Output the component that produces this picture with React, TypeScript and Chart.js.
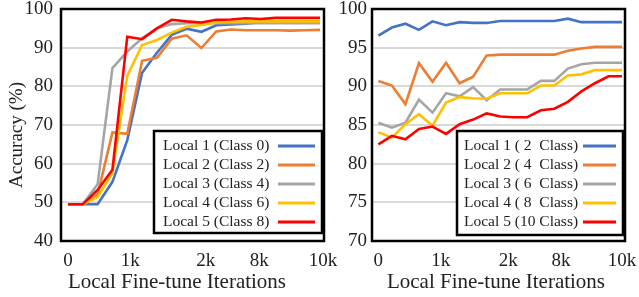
import React, { useEffect, useRef } from 'react';
import { Chart, registerables } from 'chart.js';

Chart.register(...registerables);

const colors = ['#4472C4', '#ED7D31', '#A5A5A5', '#FFC000', '#FF0000'];
const xTickLabels = ['0', '1k', '2k', '8k', '10k'];
const leftTickAt = [0, 4.2, 9.3, 12.9, 17.2];
const rightTickAt = [0, 4.6, 9.6, 13.5, 18];

const leftNames = ['Local 1 (Class 0)', 'Local 2 (Class 2)', 'Local 3 (Class 4)', 'Local 4 (Class 6)', 'Local 5 (Class 8)'];
const rightNames = ['Local 1 ( 2  Class)', 'Local 2 ( 4  Class)', 'Local 3 ( 6  Class)', 'Local 4 ( 8  Class)', 'Local 5 (10 Class)'];

const leftLocal1 = [49.5, 49.5, 49.5, 55.3, 66.1, 83.5, 88.7, 93.3, 94.9, 94.1, 95.8, 96.0, 96.2, 96.6, 96.8, 96.8, 96.8, 96.8];
const leftLocal2 = [49.5, 49.5, 52.0, 68.1, 67.7, 86.6, 87.4, 92.3, 93.2, 89.9, 94.2, 94.7, 94.5, 94.5, 94.5, 94.4, 94.5, 94.6];
const leftLocal3 = [49.5, 49.5, 54.7, 84.7, 89.0, 92.4, 95.0, 96.1, 96.3, 96.3, 96.3, 96.3, 96.3, 96.3, 96.3, 96.3, 96.3, 96.3];
const leftLocal4 = [49.5, 49.5, 51.4, 57.6, 82.7, 90.7, 92.0, 93.9, 95.4, 95.9, 96.5, 96.7, 96.8, 96.8, 96.8, 96.8, 96.8, 96.8];
const leftLocal5 = [49.5, 49.5, 53.2, 58.4, 92.8, 92.2, 95.0, 97.2, 96.8, 96.5, 97.2, 97.3, 97.6, 97.4, 97.7, 97.7, 97.7, 97.7];

const rightLocal1 = [96.55, 97.6, 98.1, 97.3, 98.4, 97.9, 98.3, 98.2, 98.2, 98.45, 98.45, 98.45, 98.45, 98.45, 98.75, 98.3, 98.3, 98.3, 98.3];
const rightLocal2 = [90.7, 90.1, 87.7, 93.0, 90.6, 93.05, 90.4, 91.25, 94.0, 94.1, 94.1, 94.1, 94.1, 94.1, 94.6, 94.9, 95.1, 95.1, 95.1];
const rightLocal3 = [85.3, 84.65, 85.3, 88.3, 86.6, 89.1, 88.7, 89.9, 88.2, 89.6, 89.6, 89.6, 90.7, 90.7, 92.3, 92.85, 93.05, 93.05, 93.05];
const rightLocal4 = [84.05, 83.4, 85.1, 86.4, 84.9, 87.9, 88.6, 88.45, 88.4, 89.1, 89.1, 89.1, 90.1, 90.1, 91.4, 91.55, 92.1, 92.1, 92.1];
const rightLocal5 = [82.5, 83.6, 83.15, 84.5, 84.8, 83.85, 85.1, 85.7, 86.5, 86.1, 86.0, 86.0, 86.9, 87.1, 88.0, 89.35, 90.4, 91.3, 91.3];

const leftSeries = [leftLocal1, leftLocal2, leftLocal3, leftLocal4, leftLocal5];
const rightSeries = [rightLocal1, rightLocal2, rightLocal3, rightLocal4, rightLocal5];

const FONT = '"Liberation Serif", "Times New Roman", serif';

const decorPlugin = {
  id: 'decor',
  afterDatasetsDraw(chart: any, _args: any, opts: any) {
    const { ctx, chartArea: a } = chart;
    ctx.save();
    ctx.strokeStyle = '#000';
    ctx.lineWidth = 2.5;
    ctx.strokeRect(a.left, a.top, a.right - a.left, a.bottom - a.top);

    const lg = opts.legend;
    ctx.fillStyle = '#fff';
    ctx.fillRect(lg.x, lg.y, lg.w, lg.h);
    ctx.lineWidth = 2.5;
    ctx.strokeRect(lg.x, lg.y, lg.w, lg.h);
    ctx.font = `15.5px ${FONT}`;
    ctx.textBaseline = 'middle';
    ctx.textAlign = 'left';
    chart.data.datasets.forEach((ds: any, i: number) => {
      const y = lg.y + lg.rowTop + i * lg.rowGap;
      ctx.fillStyle = '#222';
      ctx.fillText(ds.label, lg.x + lg.textPad, y);
      ctx.strokeStyle = ds.borderColor;
      ctx.lineWidth = 3;
      ctx.beginPath();
      ctx.moveTo(lg.x + lg.w - lg.linePad - lg.lineLen, y);
      ctx.lineTo(lg.x + lg.w - lg.linePad, y);
      ctx.stroke();
    });

    ctx.fillStyle = '#222';
    ctx.font = `21px ${FONT}`;
    ctx.textAlign = 'center';
    ctx.textBaseline = 'alphabetic';
    ctx.fillText('Local Fine-tune Iterations', opts.xTitle.x, opts.xTitle.y);
    if (opts.yTitle) {
      ctx.save();
      ctx.translate(opts.yTitle.x, opts.yTitle.y);
      ctx.rotate(-Math.PI / 2);
      ctx.font = `19px ${FONT}`;
      ctx.textBaseline = 'middle';
      ctx.fillText('Accuracy (%)', 0, 0);
      ctx.restore();
    }
    ctx.restore();
  },
};

type Props = {
  names: string[];
  series: number[][];
  tickAt: number[];
  xMin: number;
  xMax: number;
  yMin: number;
  yMax: number;
  yStep: number;
  yAxisWidth: number;
  padRight: number;
  yTickPad: number;
  width: number;
  left: number;
  legend: any;
  xTitle: any;
  yTitle?: any;
};

function LineChart(p: Props) {
  const ref = useRef<HTMLCanvasElement>(null);
  useEffect(() => {
    if (!ref.current) return;
    const datasets = p.series.map((vals, i) => ({
      label: p.names[i],
      data: vals.map((v, k) => ({ x: k, y: v })),
      borderColor: colors[i],
      backgroundColor: colors[i],
      borderWidth: 2.6,
      pointRadius: 0,
      tension: 0,
      order: p.series.length - i,
    }));
    const chart = new Chart(ref.current, {
      type: 'line',
      data: { datasets },
      plugins: [decorPlugin],
      options: {
        responsive: false,
        animation: false,
        layout: { padding: { top: 9, right: p.padRight, left: 0, bottom: 0 } },
        plugins: {
          legend: { display: false },
          tooltip: { enabled: false },
          decor: { legend: p.legend, xTitle: p.xTitle, yTitle: p.yTitle },
        } as any,
        scales: {
          x: {
            type: 'linear',
            min: p.xMin,
            max: p.xMax,
            grid: { display: false },
            border: { display: false },
            afterBuildTicks: (scale: any) => {
              scale.ticks = p.tickAt.map((v) => ({ value: v }));
            },
            afterFit: (scale: any) => {
              scale.height = 56;
              scale.paddingLeft = 0;
              scale.paddingRight = 0;
            },
            ticks: {
              autoSkip: false,
              maxRotation: 0,
              padding: 1,
              color: '#222',
              font: { family: FONT, size: 19 },
              callback: (_v: any, i: number) => xTickLabels[i],
            },
          },
          y: {
            min: p.yMin,
            max: p.yMax,
            grid: { color: '#D9D9D9', lineWidth: 2, drawTicks: false },
            border: { display: false },
            afterFit: (scale: any) => {
              scale.width = p.yAxisWidth;
              scale.paddingTop = 0;
              scale.paddingBottom = 0;
            },
            ticks: {
              stepSize: p.yStep,
              padding: p.yTickPad,
              color: '#222',
              font: { family: FONT, size: 19 },
            },
          },
        },
      },
    });
    return () => chart.destroy();
  }, []);
  return (
    <canvas
      ref={ref}
      width={p.width}
      height={297}
      style={{ position: 'absolute', left: p.left, top: 0, width: p.width, height: 297 }}
    />
  );
}

export default function App() {
  return (
    <div style={{ position: 'absolute', left: 0, top: 0, width: 639, height: 297, background: '#fff' }}>
      <LineChart
        names={leftNames}
        series={leftSeries}
        tickAt={leftTickAt}
        xMin={-0.47}
        xMax={17.27}
        yMin={40}
        yMax={100}
        yStep={10}
        yAxisWidth={61}
        padRight={15}
        yTickPad={8}
        width={339}
        left={0}
        legend={{ x: 154, y: 131, w: 168, h: 102, rowTop: 15, rowGap: 19, textPad: 9, linePad: 7, lineLen: 37 }}
        xTitle={{ x: 177, y: 288 }}
        yTitle={{ x: 17, y: 135 }}
      />
      <LineChart
        names={rightNames}
        series={rightSeries}
        tickAt={rightTickAt}
        xMin={-0.47}
        xMax={18.22}
        yMin={70}
        yMax={100}
        yStep={5}
        yAxisWidth={42}
        padRight={14}
        yTickPad={5}
        width={309}
        left={330}
        legend={{ x: 127, y: 131, w: 166, h: 104, rowTop: 15, rowGap: 19, textPad: 7, linePad: 7, lineLen: 33 }}
        xTitle={{ x: 166, y: 288 }}
      />
    </div>
  );
}
